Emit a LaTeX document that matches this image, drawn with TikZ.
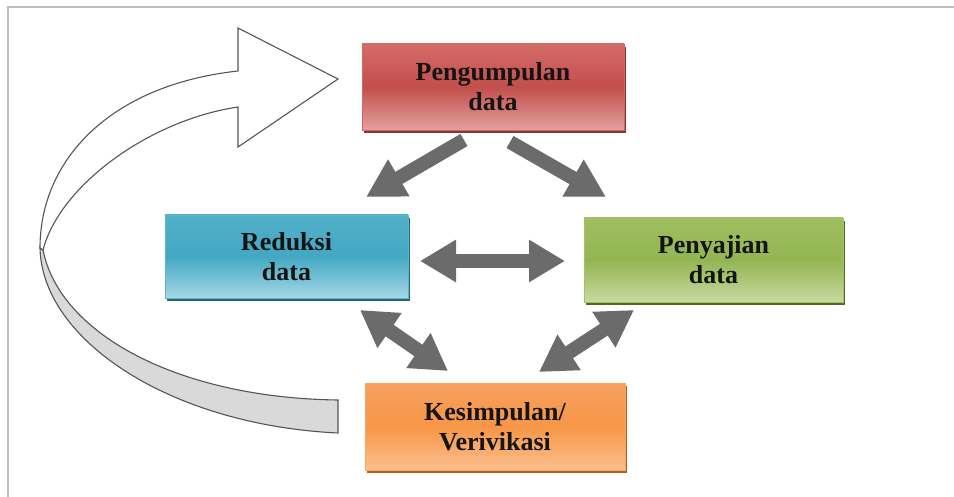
\documentclass[tikz,border=0pt]{standalone}
\usepackage{fontspec}
\setmainfont{Liberation Serif}
\usetikzlibrary{arrows.meta}
\definecolor{frameg}{HTML}{BDBDBD}
\definecolor{arrg}{HTML}{6B6B6B}
\definecolor{curveline}{HTML}{555555}
\definecolor{curvefill}{HTML}{D9D9D9}
\definecolor{txt}{HTML}{141414}
\definecolor{redT}{HTML}{D56B68}\definecolor{redM}{HTML}{C24F4C}\definecolor{redB}{HTML}{E3A09E}\definecolor{redS}{HTML}{8E3533}
\definecolor{bluT}{HTML}{52B0C9}\definecolor{bluM}{HTML}{43A8C3}\definecolor{bluB}{HTML}{A5D8E5}\definecolor{bluS}{HTML}{23657A}
\definecolor{grnT}{HTML}{A0BF60}\definecolor{grnM}{HTML}{93B552}\definecolor{grnB}{HTML}{C8DAA0}\definecolor{grnS}{HTML}{4F6B22}
\definecolor{orgT}{HTML}{F8A060}\definecolor{orgM}{HTML}{F79646}\definecolor{orgB}{HTML}{FBBF8F}\definecolor{orgS}{HTML}{B0601E}
\begin{document}
\begin{tikzpicture}[x=1pt,y=-1pt,
  stagebox/.style n args={4}{rectangle, inner sep=0pt, align=center,
    font=\fontsize{26}{30}\selectfont\bfseries, text=txt,
    top color=#1, bottom color=#3, middle color=#2, draw=#2!85!white, line width=0.6pt,
    preaction={fill=#4, transform canvas={xshift=1.5pt,yshift=-3pt}}},
  garrow/.style={draw=arrg, line width=14pt, -{Triangle[length=38pt,width=40pt]}},
  gdouble/.style={draw=arrg, line width=14pt, {Triangle[length=36pt,width=40pt]}-{Triangle[length=36pt,width=40pt]}},
  ribbon/.style={draw=curveline, line width=1.1pt, line join=miter}
]
\useasboundingbox (0,0) rectangle (954,497);
\fill[white] (0,0) rectangle (954,497);
% frame
\draw[frameg, line width=2pt] (8,497) -- (8,7) -- (954,7);

% curved return arrow
\draw[ribbon, fill=curvefill] (40,248) .. controls (42,340) and (170,425) .. (338,433)
   -- (338,400) .. controls (180,398) and (60,335) .. (43,250) -- cycle;
\draw[ribbon, fill=white] (40,248) .. controls (40,160) and (110,85) .. (238,71)
   -- (238,28) -- (338,79) -- (238,147) -- (238,107)
   .. controls (150,120) and (60,185) .. (43,250) -- cycle;

% boxes
\node[stagebox={redT}{redM}{redB}{redS}, minimum width=262pt, minimum height=86pt] (pen) at (493,87) {Pengumpulan\\data};
\node[stagebox={bluT}{bluM}{bluB}{bluS}, minimum width=243pt, minimum height=83pt] (red) at (286.5,256.5) {Reduksi\\data};
\node[stagebox={grnT}{grnM}{grnB}{grnS}, minimum width=259pt, minimum height=84pt] (pny) at (713.5,260) {Penyajian\\data};
\node[stagebox={orgT}{orgM}{orgB}{orgS}, minimum width=260pt, minimum height=87pt] (kes) at (495,426.5) {Kesimpulan/\\Verivikasi};

% arrow ends
\coordinate (a1s) at (464,140);
\coordinate (a1e) at (366,197);
\coordinate (a2s) at (510,142);
\coordinate (a2e) at (606,197);
\coordinate (hl) at (420,261);
\coordinate (hr) at (565,261);
\coordinate (rk1) at (360,310);
\coordinate (rk2) at (448,371);
\coordinate (pk1) at (634,310);
\coordinate (pk2) at (539,372);

\draw[garrow] (a1s) -- (a1e);
\draw[garrow] (a2s) -- (a2e);
\draw[gdouble] (hl) -- (hr);
\draw[gdouble] (rk1) -- (rk2);
\draw[gdouble] (pk1) -- (pk2);
\end{tikzpicture}
\end{document}
